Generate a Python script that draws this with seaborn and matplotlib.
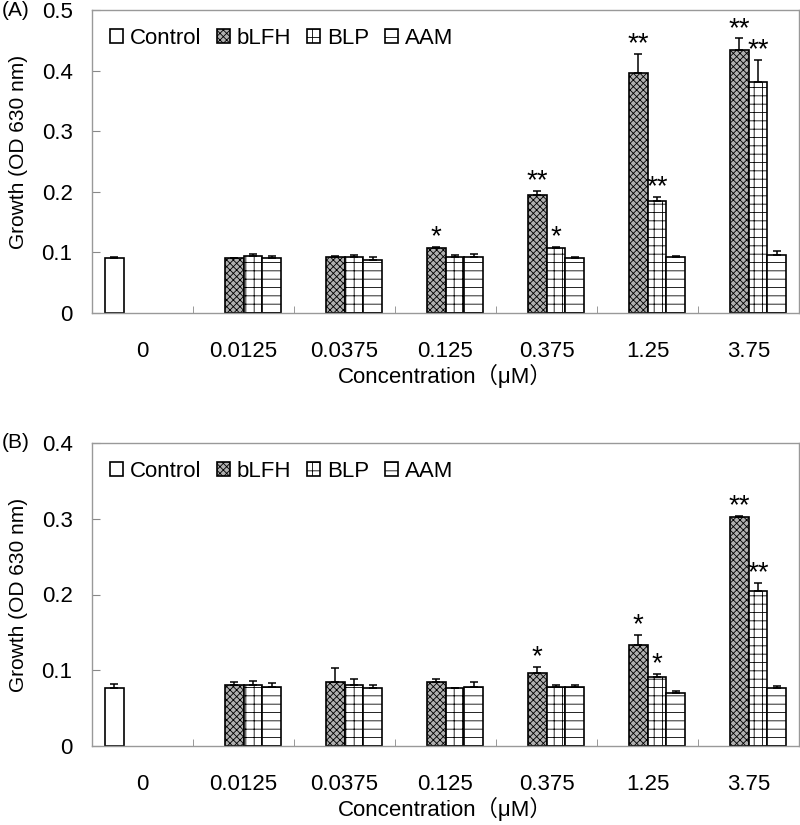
import numpy as np
import pandas as pd
import matplotlib.pyplot as plt
import seaborn as sns

plt.rcParams['font.family'] = ['Liberation Sans', 'Noto Sans CJK SC', 'DejaVu Sans']
plt.rcParams['hatch.linewidth'] = 0.6

# data
concs = ['0', '0.0125', '0.0375', '0.125', '0.375', '1.25', '3.75']
groups = ['Control', 'bLFH', 'BLP', 'AAM']

# panel A
control_a, control_a_err = 0.090, 0.002
blfh_a = [0.090, 0.093, 0.107, 0.195, 0.396, 0.434]
blfh_a_err = [0.001, 0.001, 0.002, 0.007, 0.031, 0.019]
blp_a = [0.094, 0.093, 0.093, 0.107, 0.185, 0.382]
blp_a_err = [0.003, 0.002, 0.002, 0.002, 0.007, 0.035]
aam_a = [0.090, 0.088, 0.093, 0.090, 0.093, 0.095]
aam_a_err = [0.004, 0.005, 0.005, 0.002, 0.001, 0.007]
stars_a = [('0.125', 'bLFH', '*'), ('0.375', 'bLFH', '**'), ('0.375', 'BLP', '*'),
           ('1.25', 'bLFH', '**'), ('1.25', 'BLP', '**'),
           ('3.75', 'bLFH', '**'), ('3.75', 'BLP', '**')]

# panel B
control_b, control_b_err = 0.076, 0.006
blfh_b = [0.080, 0.085, 0.084, 0.097, 0.133, 0.302]
blfh_b_err = [0.004, 0.018, 0.005, 0.0075, 0.013, 0.001]
blp_b = [0.080, 0.081, 0.076, 0.0775, 0.091, 0.205]
blp_b_err = [0.006, 0.0075, 0.001, 0.0035, 0.0035, 0.0097]
aam_b = [0.078, 0.076, 0.078, 0.0775, 0.070, 0.076]
aam_b_err = [0.005, 0.005, 0.006, 0.0035, 0.003, 0.0035]
stars_b = [('0.375', 'bLFH', '*'), ('1.25', 'bLFH', '*'), ('1.25', 'BLP', '*'),
           ('3.75', 'bLFH', '**'), ('3.75', 'BLP', '**')]

palette = {'Control': 'white', 'bLFH': '#b0b0b0', 'BLP': 'white', 'AAM': 'white'}
hatches = {'Control': '', 'bLFH': 'xxxxx', 'BLP': '++', 'AAM': '--'}


def build(control, control_err, blfh, blfh_err, blp, blp_err, aam, aam_err):
    rows = [('0', 'Control', control, control_err)]
    for name, vals, errs in [('bLFH', blfh, blfh_err), ('BLP', blp, blp_err), ('AAM', aam, aam_err)]:
        for c, v, e in zip(concs[1:], vals, errs):
            rows.append((c, name, v, e))
    return pd.DataFrame(rows, columns=['conc', 'group', 'value', 'err'])


def draw(ax, df, stars, ymax, label_y):
    sns.barplot(data=df, x='conc', y='value', hue='group', order=concs, hue_order=groups,
                palette=palette, saturation=1, width=0.75, errorbar=None, legend=False,
                edgecolor='black', linewidth=1.2, ax=ax)
    errs = df.set_index(['conc', 'group'])['err']
    tops = {}
    for cont, g in zip(ax.containers, groups):
        for bar in cont:
            bar.set_hatch(hatches[g])
            cx = bar.get_x() + bar.get_width() / 2
            c = concs[int(round(cx))]
            h = bar.get_height()
            e = errs[(c, g)]
            ax.errorbar(cx, h, yerr=[[0], [e]], fmt='none', ecolor='black',
                        elinewidth=1.1, capsize=3, capthick=1.1, zorder=5)
            tops[(c, g)] = (cx, h + e)
    for c, g, s in stars:
        cx, top = tops[(c, g)]
        ax.annotate(s, (cx, top), xytext=(0, 2), textcoords='offset points',
                    ha='center', va='baseline', fontsize=20)

    ax.legend(handles=list(ax.containers), labels=groups, loc='upper left', ncol=4,
              frameon=False, fontsize=16, handlelength=0.6, handleheight=0.6,
              handletextpad=0.3, columnspacing=0.7, borderaxespad=0.4,
              bbox_to_anchor=(0.0, 1.0))

    ax.set_ylim(0, ymax)
    ticks = np.arange(0, ymax + 1e-9, 0.1)
    ax.set_yticks(ticks)
    ax.set_yticklabels(['0' if t == 0 else f'{t:.1f}' for t in ticks])
    ax.set_xlim(-0.5, len(concs) - 0.5)
    ax.set_xticks(np.arange(len(concs)))
    ax.set_xticklabels(concs)
    ax.set_xticks(np.arange(len(concs) - 1) + 0.5, minor=True)
    ax.tick_params(axis='x', which='major', length=0, pad=20, labelsize=16)
    ax.tick_params(axis='x', which='minor', direction='in', length=5, color='#888888')
    ax.tick_params(axis='y', direction='in', length=6, color='#888888', pad=14, labelsize=16)
    for sp in ax.spines.values():
        sp.set_color('#999999')
        sp.set_linewidth(1.0)
    ax.set_xlabel('Concentration（μM）', fontsize=16)
    ax.set_ylabel('Growth (OD 630 nm)', fontsize=15)
    ax.xaxis.set_label_coords(0.5, -0.168)
    ax.yaxis.set_label_coords(-0.09, label_y)


df_a = build(control_a, control_a_err, blfh_a, blfh_a_err, blp_a, blp_a_err, aam_a, aam_a_err)
df_b = build(control_b, control_b_err, blfh_b, blfh_b_err, blp_b, blp_b_err, aam_b, aam_b_err)

fig = plt.figure(figsize=(8, 8.25), dpi=100)
ax_a = fig.add_axes([92 / 800, 1 - 313 / 825, 707 / 800, 303 / 825])
ax_b = fig.add_axes([92 / 800, 1 - 746 / 825, 707 / 800, 303 / 825])

draw(ax_a, df_a, stars_a, 0.5, 0.53)
draw(ax_b, df_b, stars_b, 0.4, 0.5)

fig.text(0.002, 1 - 11 / 825, '(A)', fontsize=15, va='center', ha='left')
fig.text(0.002, 1 - 443 / 825, '(B)', fontsize=15, va='center', ha='left')

fig.savefig('out.png', dpi=100)
